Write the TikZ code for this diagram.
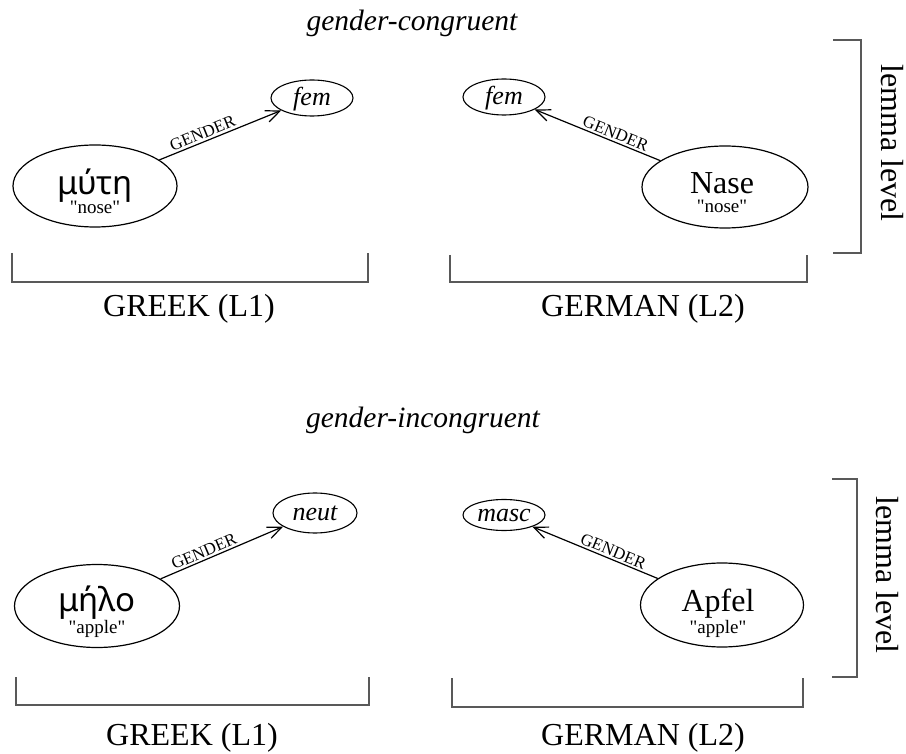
\documentclass[tikz,border=0pt]{standalone}
\usepackage{fontspec}
\setmainfont{Liberation Serif}
\newfontfamily\greekfont{Noto Sans}
\usetikzlibrary{shapes.geometric,arrows.meta}
\newcommand{\gloss}[1]{\textquotedbl#1\textquotedbl}

\begin{document}
\begin{tikzpicture}[x=1pt,y=-1pt,
  lemmanode/.style={draw, ellipse, line width=1.2pt, inner sep=0pt,
    minimum width=165pt, minimum height=82pt},
  featnode/.style={draw, ellipse, line width=1.1pt, inner sep=0pt,
    minimum width=82pt, minimum height=36pt},
  featlabel/.style={anchor=base, inner sep=0pt, font=\fontsize{26}{26}\selectfont\itshape},
  wordlabel/.style={anchor=base, inner sep=0pt, font=\fontsize{32}{32}\selectfont},
  greeklabel/.style={anchor=base, inner sep=0pt, font=\fontsize{33}{33}\selectfont\greekfont},
  glosslabel/.style={anchor=base, inner sep=0pt, font=\fontsize{19}{19}\selectfont},
  genderlink/.style={line width=1.2pt, -{Straight Barb[length=14pt,width=12pt]}},
  linklabel/.style={sloped, above, inner sep=2pt, font=\fontsize{17}{17}\selectfont},
  bracketline/.style={draw=black!65, line width=1.6pt},
  langlabel/.style={anchor=base, inner sep=0pt, font=\fontsize{32}{32}\selectfont},
  titlelabel/.style={anchor=base, inner sep=0pt, font=\fontsize{29.5}{29.5}\selectfont\itshape},
  levellabel/.style={rotate=-90, inner sep=0pt, font=\fontsize{32}{32}\selectfont}
]
\useasboundingbox (0,0) rectangle (906,754);

% ---------- gender-congruent ----------
\node[titlelabel] (t1) at (412,31) {gender-congruent};

% Greek lemma
\node[lemmanode, minimum width=164pt] (g1) at (95,186) {};
\node[greeklabel] (g1w) at (95,195) {μύτη};
\node[glosslabel] (g1g) at (95,214) {\gloss{nose}};
\node[featnode] (f1) at (312,98) {};
\node[featlabel] (f1t) at (312,106) {fem};
\draw[genderlink] (g1) -- node[linklabel, pos=0.38] (l1) {GENDER} (f1);

% German lemma
\node[lemmanode, minimum width=166pt] (d1) at (725,187) {};
\node[wordlabel] (d1w) at (722,194) {Nase};
\node[glosslabel] (d1g) at (722,213) {\gloss{nose}};
\node[featnode] (f2) at (504,97) {};
\node[featlabel] (f2t) at (504,105) {fem};
\draw[genderlink] (d1) -- node[linklabel, pos=0.38] (l2) {GENDER} (f2);

% language brackets
\coordinate (b1a) at (12,253);  \coordinate (b1b) at (368,253);
\coordinate (b2a) at (450,255); \coordinate (b2b) at (807,255);
\draw[bracketline] (b1a) -- ++(0,29) -| (b1b);
\draw[bracketline] (b2a) -- ++(0,27) -| (b2b);
\node[langlabel] (lang1) at (189,317) {GREEK (L1)};
\node[langlabel] (lang2) at (643,317) {GERMAN (L2)};

% lemma-level bracket
\coordinate (v1a) at (833,40); \coordinate (v1b) at (833,253);
\draw[bracketline] (v1a) -- ++(28,0) |- (v1b);
\node[levellabel] (lv1) at (892,143) {lemma level};

% ---------- gender-incongruent ----------
\node[titlelabel] (t2) at (423,427) {gender-incongruent};

% Greek lemma
\node[lemmanode, minimum height=83pt] (g2) at (97,606) {};
\node[greeklabel] (g2w) at (97,611) {μήλο};
\node[glosslabel] (g2g) at (97,633) {\gloss{apple}};
\node[featnode, minimum width=84pt, minimum height=40pt] (f3) at (315,513) {};
\node[featlabel] (f3t) at (315,520) {neut};
\draw[genderlink] (g2) -- node[linklabel, pos=0.38] (l3) {GENDER} (f3);

% German lemma
\node[lemmanode, minimum width=163pt, minimum height=84pt] (d2) at (722,605) {};
\node[wordlabel] (d2w) at (718,611) {Apfel};
\node[glosslabel] (d2g) at (718,633) {\gloss{apple}};
\node[featnode, minimum height=31pt] (f4) at (504,515) {};
\node[featlabel] (f4t) at (504,521) {masc};
\draw[genderlink] (d2) -- node[linklabel, pos=0.38] (l4) {GENDER} (f4);

% language brackets
\coordinate (b3a) at (16,677);  \coordinate (b3b) at (369,677);
\coordinate (b4a) at (452,678); \coordinate (b4b) at (803,678);
\draw[bracketline] (b3a) -- ++(0,28) -| (b3b);
\draw[bracketline] (b4a) -- ++(0,29) -| (b4b);
\node[langlabel] (lang3) at (192,745) {GREEK (L1)};
\node[langlabel] (lang4) at (643,745) {GERMAN (L2)};

% lemma-level bracket
\coordinate (v2a) at (832,479); \coordinate (v2b) at (832,677);
\draw[bracketline] (v2a) -- ++(25,0) |- (v2b);
\node[levellabel] (lv2) at (887,575) {lemma level};
\end{tikzpicture}
\end{document}
